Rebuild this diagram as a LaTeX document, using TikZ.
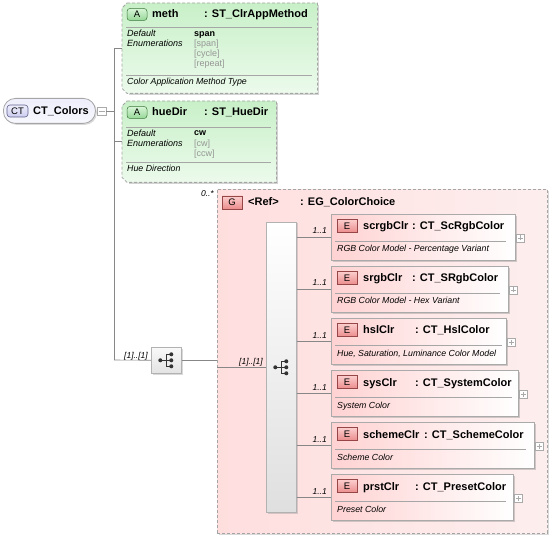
\documentclass[tikz,border=0pt]{standalone}
\usepackage{fontspec}
\setmainfont{Liberation Sans}
\usetikzlibrary{shadows}
\definecolor{ln}{RGB}{135,135,135}
\definecolor{dsh}{RGB}{165,165,165}
\definecolor{ebd}{RGB}{170,170,170}
\definecolor{pinkL}{RGB}{255,210,210}
\definecolor{pinkG}{RGB}{255,222,222}
\definecolor{pinkR}{RGB}{253,238,238}
\definecolor{grnT}{RGB}{200,240,200}
\definecolor{grnB}{RGB}{236,250,236}
\definecolor{badgeR}{RGB}{235,140,140}
\definecolor{badgeRl}{RGB}{252,205,205}
\definecolor{badgeRd}{RGB}{150,70,70}
\definecolor{badgeG}{RGB}{150,215,150}
\definecolor{badgeGl}{RGB}{215,245,215}
\definecolor{badgeGd}{RGB}{60,120,60}
\definecolor{lav}{RGB}{205,205,240}
\definecolor{lavl}{RGB}{238,238,252}
\definecolor{lavd}{RGB}{95,95,140}
\definecolor{enumg}{RGB}{150,150,150}
\begin{document}
\begin{tikzpicture}[x=1pt,y=-1pt,
  conn/.style={draw=ln, line width=0.6pt},
  namefont/.style={font=\fontsize{11}{12}\selectfont\bfseries, inner sep=0pt, anchor=base west},
  descfont/.style={font=\fontsize{8.8}{10}\selectfont\itshape, inner sep=0pt, anchor=base west},
  enumfont/.style={font=\fontsize{9}{10}\selectfont\itshape, inner sep=0pt, anchor=base west},
  valfont/.style={font=\fontsize{9}{10}\selectfont\bfseries, inner sep=0pt, anchor=base west},
  enumval/.style={font=\fontsize{9}{10}\selectfont, text=enumg, inner sep=0pt, anchor=base west},
  mult/.style={font=\fontsize{8.5}{10}\selectfont\itshape, inner sep=0pt, anchor=base east},
  ebox/.style={draw=ebd, line width=0.8pt, left color=pinkL, right color=white, anchor=north west, minimum height=46pt, inner sep=0pt,
     drop shadow={shadow xshift=1.5pt, shadow yshift=-1.5pt, fill=gray, opacity=0.35}},
  ebadge/.style={draw=badgeRd, line width=0.5pt, top color=badgeRl, bottom color=badgeR, minimum width=20pt, minimum height=13pt, inner sep=0pt, font=\fontsize{9.5}{10}\selectfont},
  abadge/.style={draw=badgeGd, line width=0.5pt, top color=badgeGl, bottom color=badgeG, rounded corners=3pt, minimum width=20pt, minimum height=12pt, inner sep=0pt, font=\fontsize{9.5}{10}\selectfont},
  plusbox/.style={draw=ebd, fill=white, minimum width=8pt, minimum height=8pt, inner sep=0pt, line width=0.5pt, path picture={\draw[ebd, line width=0.5pt] ([xshift=-2.5pt]path picture bounding box.center) -- ([xshift=2.5pt]path picture bounding box.center); \draw[ebd, line width=0.5pt] ([yshift=-2.5pt]path picture bounding box.center) -- ([yshift=2.5pt]path picture bounding box.center);}},
  sepline/.style={draw=gray!70, line width=0.5pt},
  seqicon/.pic={
    \draw[line width=0.7pt, black!80] (-6,0) -- (0,0);
    \draw[line width=0.7pt, black!80] (0,-6) -- (0,6);
    \draw[line width=0.7pt, black!80] (0,-6) -- (5,-6) (0,0) -- (5,0) (0,6) -- (5,6);
    \fill[black!80] (-6,0) circle (2);
    \fill[black!80] (5,-6) circle (2) (5,0) circle (2) (5,6) circle (2);
  }
]
\useasboundingbox (0,0) rectangle (554,537);

% ---------- CT_Colors root ----------
\node[draw=gray!70, line width=0.8pt, rounded corners=12pt, top color=lavl, bottom color=white!85!lav, minimum width=92pt, minimum height=25pt, anchor=north west, inner sep=0pt,
  drop shadow={shadow xshift=1.5pt, shadow yshift=-1.5pt, fill=gray, opacity=0.3}] (root) at (3,98) {};
\node[draw=lavd, line width=0.6pt, rounded corners=3pt, top color=lavl, bottom color=lav, minimum width=21pt, minimum height=12pt, inner sep=0pt, font=\fontsize{9.5}{10}\selectfont] (rootbadge) at (17.5,111) {CT};
\node[namefont] (rootname) at (33,115) {CT\_Colors};
\node[draw=ebd, fill=white, minimum width=9pt, minimum height=8pt, inner sep=0pt, line width=0.5pt] (minus) at (101.5,111) {};
\draw[ebd, line width=0.5pt] (98.5,111) -- (104.5,111);

% ---------- trunk ----------
\coordinate (tTop) at (114,48);
\coordinate (tMid) at (114,111);
\coordinate (tHue) at (114,141);
\coordinate (tBot) at (114,360);
\draw[conn] (tTop) -- (tBot);
\draw[conn] (minus.east) -- (tMid);

% ---------- meth attribute ----------
\node[minimum width=195pt, minimum height=90pt, inner sep=0pt, anchor=north west] (meth) at (122,3) {};
\fill[gray!35] ([shift={(7pt,-2pt)}]meth.north west) -- ([shift={(2pt,-2pt)}]meth.north east) -- ([shift={(2pt,-2pt)}]meth.south east) -- ([shift={(7pt,-2pt)}]meth.south west) -- cycle;
\shade[top color=grnT, bottom color=grnB] ([xshift=5pt]meth.north west) -- (meth.north east) -- (meth.south east) -- ([xshift=5pt]meth.south west) -- ([yshift=5pt]meth.south west) -- ([yshift=-5pt]meth.north west) -- cycle;
\draw[dsh, dashed, dash pattern=on 3pt off 2pt, line width=0.8pt] ([xshift=5pt]meth.north west) -- (meth.north east) -- (meth.south east) -- ([xshift=5pt]meth.south west) -- ([yshift=5pt]meth.south west) -- ([yshift=-5pt]meth.north west) -- cycle;
\node[abadge] (methbadge) at (137,14.5) {A};
\node[namefont] (methname) at (152,18) {meth};
\node[namefont] (methtype) at (204,18) {: ST\_ClrAppMethod};
\draw[sepline] (126,27.5) -- (312,27.5);
\node[enumfont] (methdef) at (127,37) {Default};
\node[enumfont] (methenum) at (127,46.5) {Enumerations};
\node[valfont] (methdefv) at (194,36.5) {span};
\node[enumval] (methe1) at (194,46.5) {[span]};
\node[enumval] (methe2) at (194,56.5) {[cycle]};
\node[enumval] (methe3) at (194,66.5) {[repeat]};
\draw[sepline] (126,75) -- (312,75);
\node[descfont] (methdesc) at (127,85) {Color Application Method Type};
\draw[conn] (tTop) -- (meth.west |- tTop);

% ---------- hueDir attribute ----------
\node[minimum width=154pt, minimum height=81pt, inner sep=0pt, anchor=north west] (hue) at (122,101) {};
\fill[gray!35] ([shift={(7pt,-2pt)}]hue.north west) -- ([shift={(2pt,-2pt)}]hue.north east) -- ([shift={(2pt,-2pt)}]hue.south east) -- ([shift={(7pt,-2pt)}]hue.south west) -- cycle;
\shade[top color=grnT, bottom color=grnB] ([xshift=5pt]hue.north west) -- (hue.north east) -- (hue.south east) -- ([xshift=5pt]hue.south west) -- ([yshift=5pt]hue.south west) -- ([yshift=-5pt]hue.north west) -- cycle;
\draw[dsh, dashed, dash pattern=on 3pt off 2pt, line width=0.8pt] ([xshift=5pt]hue.north west) -- (hue.north east) -- (hue.south east) -- ([xshift=5pt]hue.south west) -- ([yshift=5pt]hue.south west) -- ([yshift=-5pt]hue.north west) -- cycle;
\node[abadge] (huebadge) at (137,112.5) {A};
\node[namefont] (huename) at (152,116) {hueDir};
\node[namefont] (huetype) at (204,116) {: ST\_HueDir};
\draw[sepline] (126,127) -- (271,127);
\node[enumfont] (huedef) at (127,136.5) {Default};
\node[enumfont] (hueenum) at (127,146.5) {Enumerations};
\node[valfont] (huedefv) at (194,136) {cw};
\node[enumval] (huee1) at (194,146.5) {[cw]};
\node[enumval] (huee2) at (194,157) {[ccw]};
\draw[sepline] (126,162) -- (271,162);
\node[descfont] (huedesc) at (127,172) {Hue Direction};
\draw[conn] (tHue) -- (hue.west |- tHue);

% ---------- group EG_ColorChoice ----------
\node[draw=dsh, dashed, dash pattern=on 3pt off 2pt, line width=0.8pt, left color=pinkG, right color=pinkR, minimum width=330pt, minimum height=344pt, inner sep=0pt, anchor=north west,
  drop shadow={shadow xshift=1.5pt, shadow yshift=-1.5pt, fill=gray, opacity=0.3}] (grp) at (217,189) {};
\node[mult, anchor=base east] (grpmult) at (214,197) {0..*};
\node[ebadge] (grpbadge) at (232,202.5) {G};
\node[namefont] (grpref) at (248,206) {<Ref>};
\node[namefont] (grptype) at (300,206) {: EG\_ColorChoice};

% ---------- sequence (outer) ----------
\node[draw=gray!60, line width=0.6pt, top color=gray!5, bottom color=gray!22, minimum width=30pt, minimum height=26pt, inner sep=0pt, anchor=north west,
  drop shadow={shadow xshift=1.2pt, shadow yshift=-1.2pt, fill=gray, opacity=0.3}] (seq) at (151,347) {};
\pic at (seq.center) {seqicon};
\draw[conn] (tBot) -- (seq.west);
\node[mult] (seqmult) at (148,358) {[1]..[1]};
\draw[conn] (seq.east) -- (grp.west |- seq.east);

% ---------- sequence bar (inner) ----------
\node[draw=gray!60, line width=0.6pt, top color=white, bottom color=gray!25, minimum width=30pt, minimum height=290pt, inner sep=0pt, anchor=north west,
  drop shadow={shadow xshift=1.2pt, shadow yshift=-1.2pt, fill=gray, opacity=0.3}] (bar) at (266,222) {};
\pic at (bar.center) {seqicon};
\draw[conn] (grp.west |- bar.west) -- (bar.west);
\node[mult] (barmult) at (263,364.5) {[1]..[1]};

% ---------- elements ----------
% scrgbClr
\node[ebox, minimum width=184pt] (e1) at (331,214) {};
\node[ebadge] (e1b) at (347,226) {E};
\node[namefont] (e1n) at (363,230) {scrgbClr};
\node[namefont] (e1t) at (412,230) {: CT\_ScRgbColor};
\draw[sepline] (335,241) -- (506,241);
\node[descfont] (e1d) at (337,252) {RGB Color Model - Percentage Variant};
\node[plusbox] (e1p) at (520.5,238) {};
\draw[conn] (bar.east |- e1.west) -- (e1.west);
\node[mult] (e1m) at (327,234) {1..1};

% srgbClr
\node[ebox, minimum width=177pt] (e2) at (331,266) {};
\node[ebadge] (e2b) at (347,278) {E};
\node[namefont] (e2n) at (363,282) {srgbClr};
\node[namefont] (e2t) at (412,282) {: CT\_SRgbColor};
\draw[sepline] (335,293) -- (500,293);
\node[descfont] (e2d) at (337,304) {RGB Color Model - Hex Variant};
\node[plusbox] (e2p) at (513.5,290) {};
\draw[conn] (bar.east |- e2.west) -- (e2.west);
\node[mult] (e2m) at (327,286) {1..1};

% hslClr
\node[ebox, minimum width=175pt] (e3) at (331,318) {};
\node[ebadge] (e3b) at (347,330) {E};
\node[namefont] (e3n) at (363,334) {hslClr};
\node[namefont] (e3t) at (415,334) {: CT\_HslColor};
\draw[sepline] (335,345) -- (502,345);
\node[descfont] (e3d) at (337,356) {Hue, Saturation, Luminance Color Model};
\node[plusbox] (e3p) at (511.5,342) {};
\draw[conn] (bar.east |- e3.west) -- (e3.west);
\node[mult] (e3m) at (327,338) {1..1};

% sysClr
\node[ebox, minimum width=187pt] (e4) at (331,370) {};
\node[ebadge] (e4b) at (347,382) {E};
\node[namefont] (e4n) at (363,386) {sysClr};
\node[namefont] (e4t) at (415,386) {: CT\_SystemColor};
\draw[sepline] (335,397) -- (512,397);
\node[descfont] (e4d) at (337,408) {System Color};
\node[plusbox] (e4p) at (523.5,394) {};
\draw[conn] (bar.east |- e4.west) -- (e4.west);
\node[mult] (e4m) at (327,390) {1..1};

% schemeClr
\node[ebox, minimum width=203pt] (e5) at (331,422) {};
\node[ebadge] (e5b) at (347,434) {E};
\node[namefont] (e5n) at (363,438) {schemeClr};
\node[namefont] (e5t) at (424,438) {: CT\_SchemeColor};
\draw[sepline] (335,449) -- (526,449);
\node[descfont] (e5d) at (337,460) {Scheme Color};
\node[plusbox] (e5p) at (539.5,446) {};
\draw[conn] (bar.east |- e5.west) -- (e5.west);
\node[mult] (e5m) at (327,442) {1..1};

% prstClr
\node[ebox, minimum width=182pt] (e6) at (331,474) {};
\node[ebadge] (e6b) at (347,486) {E};
\node[namefont] (e6n) at (363,490) {prstClr};
\node[namefont] (e6t) at (415,490) {: CT\_PresetColor};
\draw[sepline] (335,501) -- (506,501);
\node[descfont] (e6d) at (337,512) {Preset Color};
\node[plusbox] (e6p) at (518.5,498) {};
\draw[conn] (bar.east |- e6.west) -- (e6.west);
\node[mult] (e6m) at (327,494) {1..1};

\end{tikzpicture}
\end{document}
